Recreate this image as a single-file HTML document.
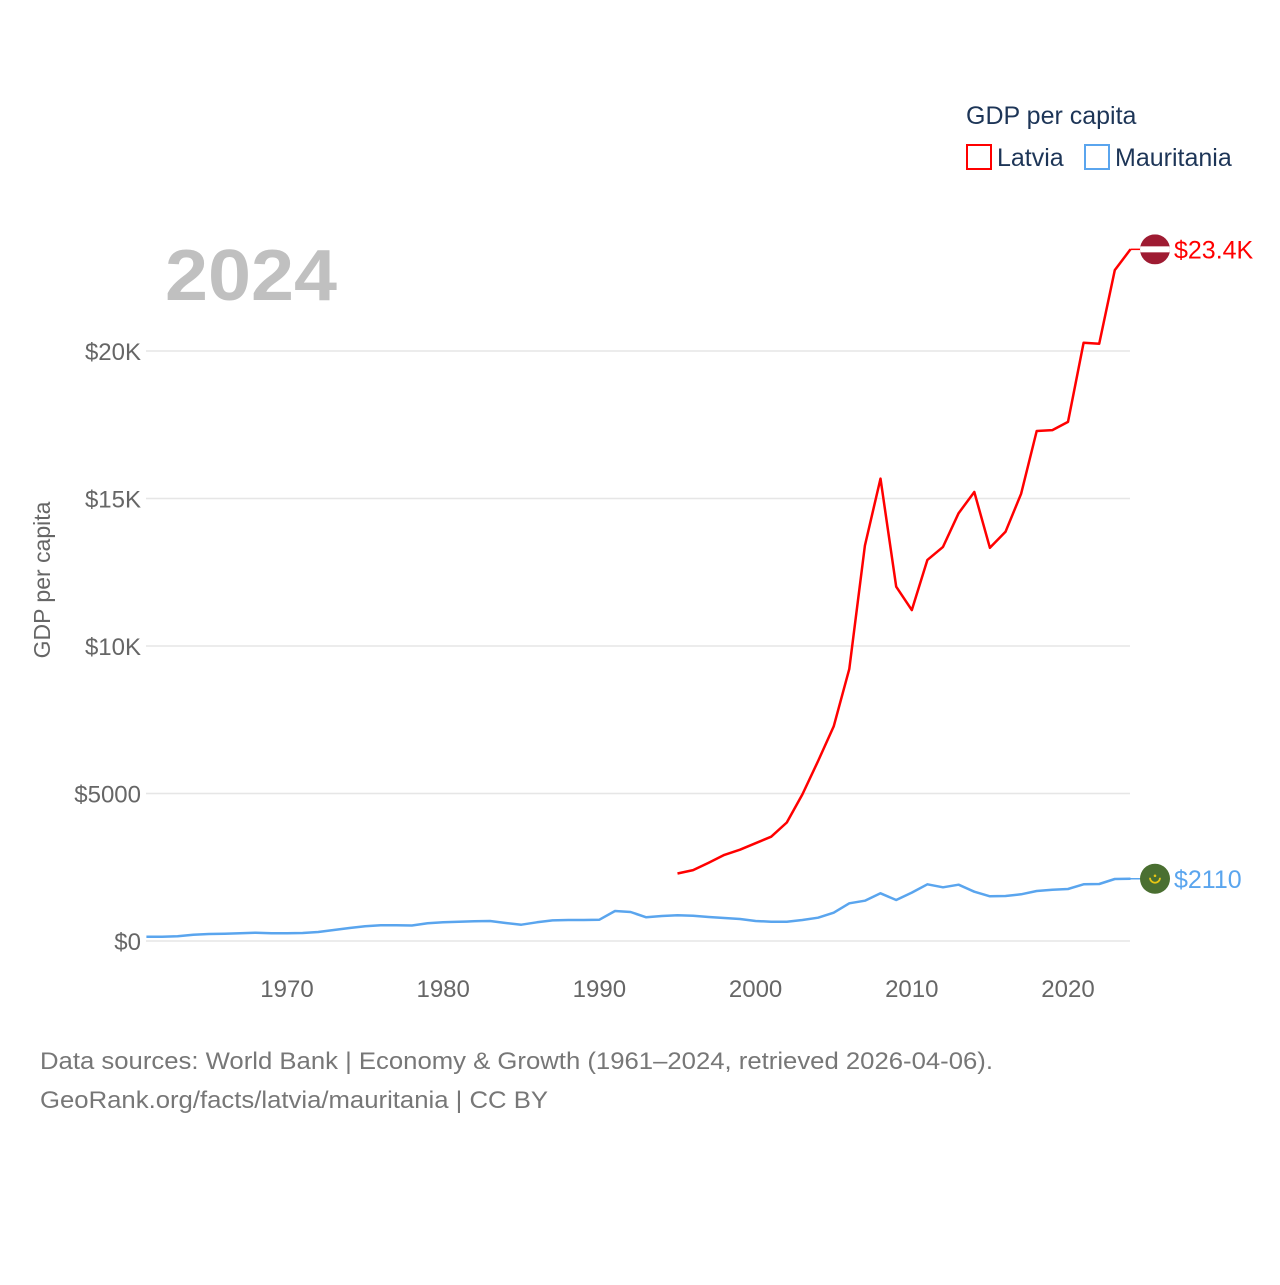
<!DOCTYPE html>
<html><head><meta charset="utf-8"><style>
body{margin:0;background:#fff;font-family:"Liberation Sans",sans-serif;}
svg text{font-family:"Liberation Sans",sans-serif;}
</style></head><body>
<svg id="chart" width="1280" height="1280" viewBox="0 0 1280 1280">
<text x="966" y="124" font-size="25" fill="#1d3557">GDP per capita</text>
<g><rect x="967" y="145" width="24" height="24" fill="none" stroke="#ff0000" stroke-width="2"/><text x="997" y="166" font-size="25" fill="#1d3557">Latvia</text></g>
<g><rect x="1085" y="145" width="24" height="24" fill="none" stroke="#5aa5ee" stroke-width="2"/><text x="1115" y="166" font-size="25" fill="#1d3557">Mauritania</text></g>
<text x="165" y="300" font-size="72" font-weight="bold" fill="#c0c0c0" textLength="172" lengthAdjust="spacingAndGlyphs">2024</text>
<text transform="translate(50,580) rotate(-90)" text-anchor="middle" font-size="23" fill="#666">GDP per capita</text>
<g id="grid"></g><g id="yticks"></g><g id="xticks"></g><g id="lines"></g>
<text x="40" y="1069" font-size="24" fill="#777" textLength="953" lengthAdjust="spacingAndGlyphs">Data sources: World Bank | Economy &amp; Growth (1961–2024, retrieved 2026-04-06).</text>
<text x="40" y="1108" font-size="24" fill="#777" textLength="508" lengthAdjust="spacingAndGlyphs">GeoRank.org/facts/latvia/mauritania | CC BY</text>
</svg>
<script>
const yTickValues=[0,5000,10000,15000,20000];
const yTickLabels=["$0","$5000","$10K","$15K","$20K"];
const xTickYears=[1970,1980,1990,2000,2010,2020];
const latviaStart=1995;
const latviaValues=[2287,2405,2654,2918,3094,3314,3534,4018,4971,6100,7273,9223,13402,15674,12009,11217,12918,13358,14501,15220,13328,13871,15161,17287,17317,17595,20279,20249,22742,23446];
const mauritaniaStart=1961;
const mauritaniaValues=[147,147,158,215,237,249,260,283,260,260,271,305,373,441,497,531,531,525,599,633,655,667,678,610,554,633,700,712,712,723,1017,983,802,847,870,859,814,780,746,678,655,655,712,791,960,1277,1367,1616,1390,1639,1921,1819,1910,1672,1514,1525,1582,1695,1740,1763,1921,1932,2102,2110];
const NS="http://www.w3.org/2000/svg";
function X(yr){return 146.4+(yr-1961)*15.62;}
function Y(v){return 941-v*147.5/5000;}
function mk(tag,attrs,parent){const e=document.createElementNS(NS,tag);for(const k in attrs)e.setAttribute(k,attrs[k]);parent.appendChild(e);return e;}
const grid=document.getElementById('grid'),yt=document.getElementById('yticks'),xt=document.getElementById('xticks'),ln=document.getElementById('lines');
yTickValues.forEach((v,i)=>{
 const g=mk('line',{x1:146,x2:1130,y1:Y(v),y2:Y(v),stroke:'#e6e6e6','stroke-width':1.5},grid);
 
 
 const t=mk('text',{x:141,y:Y(v)+9,'text-anchor':'end','font-size':24,fill:'#666'},yt);
 t.textContent=yTickLabels[i];
 
 
});
xTickYears.forEach(yr=>{
 const t=mk('text',{x:X(yr),y:997,'text-anchor':'middle','font-size':24,fill:'#666'},xt);
 t.textContent=yr;
 
 
});
function series(vals,start,color,name){
 const pts=vals.map((v,i)=>X(start+i).toFixed(1)+','+Y(v).toFixed(1)).join(' ');
 const p=mk('polyline',{points:pts,fill:'none',stroke:color,'stroke-width':2.5,'stroke-linejoin':'round'},ln);
 
 
}
series(mauritaniaValues,mauritaniaStart,'#5aa5ee','mauritania-line');
series(latviaValues,latviaStart,'#ff0000','latvia-line');
const lv=latviaValues[latviaValues.length-1],mv=mauritaniaValues[mauritaniaValues.length-1];
const lx=X(2024),ly=Y(lv),my=Y(mv);
mk('line',{x1:lx,x2:1142,y1:ly,y2:ly,stroke:'#ff0000','stroke-width':1.5},ln);
mk('line',{x1:lx,x2:1142,y1:my,y2:my,stroke:'#5aa5ee','stroke-width':1.5},ln);
const cp=mk('clipPath',{id:'lvclip'},ln);mk('circle',{cx:1155,cy:ly,r:15},cp);
const lf=mk('g',{'clip-path':'url(#lvclip)'},ln);


mk('rect',{x:1140,y:ly-15,width:30,height:30,fill:'#9e1b32'},lf);
mk('rect',{x:1140,y:ly-3,width:30,height:6,fill:'#fff'},lf);
const mf=mk('g',{},ln);


mk('circle',{cx:1155,cy:my,r:15,fill:'#4a6f31'},mf);
mk('path',{d:`M1150 ${my-1} a5 5 0 0 0 10 0`,fill:'none',stroke:'#e8c614','stroke-width':1.8},mf);
mk('circle',{cx:1155,cy:my-3,r:1.3,fill:'#e8c614'},mf);
const l1=mk('text',{x:1174,y:ly+9,'font-size':25,fill:'#ff0000'},ln);
l1.textContent='$'+(lv/1000).toFixed(1)+'K';


const l2=mk('text',{x:1174,y:my+9,'font-size':25,fill:'#5aa5ee'},ln);
l2.textContent='$'+mv;


</script>
</body></html>
